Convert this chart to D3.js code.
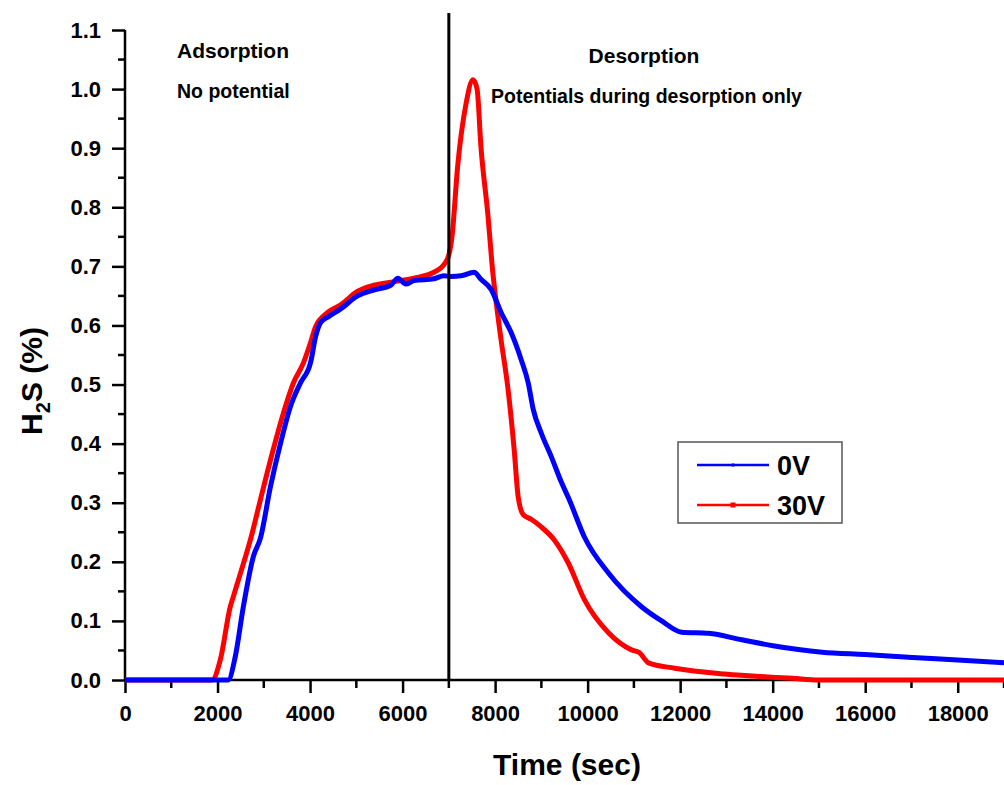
<!DOCTYPE html>
<html>
<head>
<meta charset="utf-8">
<script src="https://cdn.jsdelivr.net/npm/d3@7"></script>
<style>
  body { margin: 0; background: #fff; }
  text { font-family: "Liberation Sans", Arial, sans-serif; font-weight: bold; fill: #000; }
</style>
</head>
<body>
<div id="chart"></div>
<script>
// series: time (sec) and H2S (%)
var seriesNames = ["0V", "30V"];
var seriesColors = ["#0000ff", "#ff0000"];

var time0V = [0, 1000, 2000, 2230, 2385, 2558, 2775, 2927, 3144, 3360, 3577, 3794, 4011, 4120, 4228, 4401,
  4662, 5030, 5377, 5745, 5897, 6070, 6244, 6677, 6894, 7046, 7263, 7545, 7696, 7913, 8130, 8347,
  8564, 8715, 8824, 8997, 9214, 9431, 9604, 9930, 10450, 11165, 11600, 12033, 12618, 13333, 14005,
  15068, 16000, 17020, 18000, 19060];
var h2s0V = [0, 0, 0, 0, 0.04, 0.124, 0.209, 0.24, 0.327, 0.40, 0.463, 0.503, 0.537, 0.581, 0.605, 0.615,
  0.628, 0.65, 0.66, 0.668, 0.68, 0.67, 0.676, 0.679, 0.684, 0.683, 0.684, 0.69, 0.678, 0.661, 0.622, 0.588,
  0.542, 0.503, 0.458, 0.418, 0.378, 0.335, 0.305, 0.242, 0.181, 0.124, 0.1, 0.081, 0.079, 0.068, 0.058,
  0.047, 0.043, 0.038, 0.034, 0.029];

var time30V = [0, 1000, 1880, 2060, 2276, 2341, 2493, 2710, 2927, 3187, 3425, 3642, 3859, 4011, 4120, 4380,
  4662, 5030, 5377, 5897, 6244, 6677, 6894, 7003, 7068, 7191, 7371, 7523, 7610, 7696, 7841, 7950,
  8022, 8130, 8275, 8412, 8499, 8607, 8780, 8997, 9279, 9582, 9930, 10450, 10949, 11122, 11317,
  11881, 12965, 14417, 15000, 17000, 19060];
var h2s30V = [0, 0, 0, 0.034, 0.124, 0.141, 0.18, 0.237, 0.305, 0.385, 0.452, 0.503, 0.537, 0.571, 0.598, 0.622,
  0.635, 0.658, 0.668, 0.675, 0.68, 0.69, 0.703, 0.72, 0.75, 0.87, 0.975, 1.016, 1.0, 0.9, 0.79, 0.69,
  0.64, 0.575, 0.495, 0.39, 0.31, 0.28, 0.272, 0.259, 0.237, 0.198, 0.136, 0.08, 0.051, 0.046, 0.029,
  0.02, 0.01, 0.003, 0, 0, 0];

var xTicks = [0, 2000, 4000, 6000, 8000, 10000, 12000, 14000, 16000, 18000];
var yTicks = [0, 0.1, 0.2, 0.3, 0.4, 0.5, 0.6, 0.7, 0.8, 0.9, 1.0, 1.1];
var switchTime = 7000;

var width = 1004, height = 785;

var svg = d3.select("#chart")
  .append("svg")
    .attr("width", width)
    .attr("height", height);

svg.append("rect").attr("width", width).attr("height", height).attr("fill", "#fff");

var x = d3.scaleLinear()
  .domain([0, 19000])
  .range([125, 1004]);

var y = d3.scaleLinear()
  .domain([0, 1.1])
  .range([680, 30]);

// x axis
var xAxis = svg.append("g")
  .attr("transform", "translate(0,680)")
  .call(d3.axisBottom(x).tickValues(xTicks).tickSize(13).tickPadding(12).tickFormat(d3.format("d")));
xAxis.select(".domain").attr("stroke-width", 2.5).attr("d", "M125,0H1004");
xAxis.selectAll(".tick line").attr("stroke-width", 2.5);
xAxis.selectAll("text").style("font-size", "22px");
xAxis.selectAll("minor")
  .data(d3.range(1000, 19001, 2000))
  .enter()
  .append("line")
    .attr("x1", function(d) { return x(d); })
    .attr("x2", function(d) { return x(d); })
    .attr("y1", 0).attr("y2", 8)
    .attr("stroke", "#000").attr("stroke-width", 2.5);

// y axis
var yAxis = svg.append("g")
  .attr("transform", "translate(125,0)")
  .call(d3.axisLeft(y).tickValues(yTicks).tickSize(13).tickPadding(11).tickFormat(d3.format(".1f")));
yAxis.select(".domain").attr("stroke-width", 2.5).attr("d", "M0,30V680");
yAxis.selectAll(".tick line").attr("stroke-width", 2.5);
yAxis.selectAll("text").style("font-size", "22px");
yAxis.selectAll("minor")
  .data(d3.range(0.05, 1.1, 0.1))
  .enter()
  .append("line")
    .attr("y1", function(d) { return y(d); })
    .attr("y2", function(d) { return y(d); })
    .attr("x1", 0).attr("x2", -7)
    .attr("stroke", "#000").attr("stroke-width", 2.5);

// curves, 30V under 0V
var line = d3.line()
  .x(function(d) { return x(d[0]); })
  .y(function(d) { return y(d[1]); })
  .curve(d3.curveMonotoneX);

svg.append("path")
  .datum(d3.zip(time30V, h2s30V))
  .attr("d", line)
  .attr("fill", "none")
  .attr("stroke", seriesColors[1])
  .attr("stroke-width", 5)
  .attr("stroke-linejoin", "round");

svg.append("path")
  .datum(d3.zip(time0V, h2s0V))
  .attr("d", line)
  .attr("fill", "none")
  .attr("stroke", seriesColors[0])
  .attr("stroke-width", 5)
  .attr("stroke-linejoin", "round");

// adsorption / desorption divider
svg.append("line")
  .attr("x1", x(switchTime)).attr("x2", x(switchTime))
  .attr("y1", 13).attr("y2", 680)
  .attr("stroke", "#000").attr("stroke-width", 3);

// annotations
svg.append("text").text("Adsorption").attr("x", 177).attr("y", 58).style("font-size", "21px");
svg.append("text").text("No potential").attr("x", 177).attr("y", 98).style("font-size", "19.5px");
svg.append("text").text("Desorption").attr("x", 644).attr("y", 63).attr("text-anchor", "middle").style("font-size", "21px");
svg.append("text").text("Potentials during desorption only").attr("x", 491).attr("y", 103).style("font-size", "19.5px");

// axis titles
svg.append("text")
  .text("Time (sec)")
  .attr("x", 567).attr("y", 775)
  .attr("text-anchor", "middle")
  .style("font-size", "30px");

var yTitle = svg.append("text")
  .attr("transform", "translate(42,381)rotate(-90)")
  .attr("text-anchor", "middle")
  .style("font-size", "30px");
yTitle.append("tspan").text("H");
yTitle.append("tspan").text("2").attr("dy", 8).style("font-size", "20px");
yTitle.append("tspan").text("S (%)").attr("dy", -8);

// legend
var legend = svg.append("g").attr("transform", "translate(678,442)");
legend.append("rect")
  .attr("width", 164).attr("height", 81)
  .attr("fill", "#fff").attr("stroke", "#555").attr("stroke-width", 1.5);

var items = legend.selectAll("g.item")
  .data(seriesNames)
  .enter()
  .append("g")
    .attr("transform", function(d, i) { return "translate(0," + (23 + i * 40) + ")"; });

items.append("line")
  .attr("x1", 19).attr("x2", 91)
  .attr("stroke", function(d, i) { return seriesColors[i]; })
  .attr("stroke-width", 2.5);
items.append("rect")
  .attr("x", function(d, i) { return i == 0 ? 53.5 : 52.5; })
  .attr("y", function(d, i) { return i == 0 ? -1.5 : -2.5; })
  .attr("width", function(d, i) { return i == 0 ? 3 : 5; })
  .attr("height", function(d, i) { return i == 0 ? 3 : 5; })
  .attr("fill", function(d, i) { return seriesColors[i]; });
items.append("text")
  .text(function(d) { return d; })
  .attr("x", 99).attr("y", 10)
  .style("font-size", "27px");
</script>
</body>
</html>
